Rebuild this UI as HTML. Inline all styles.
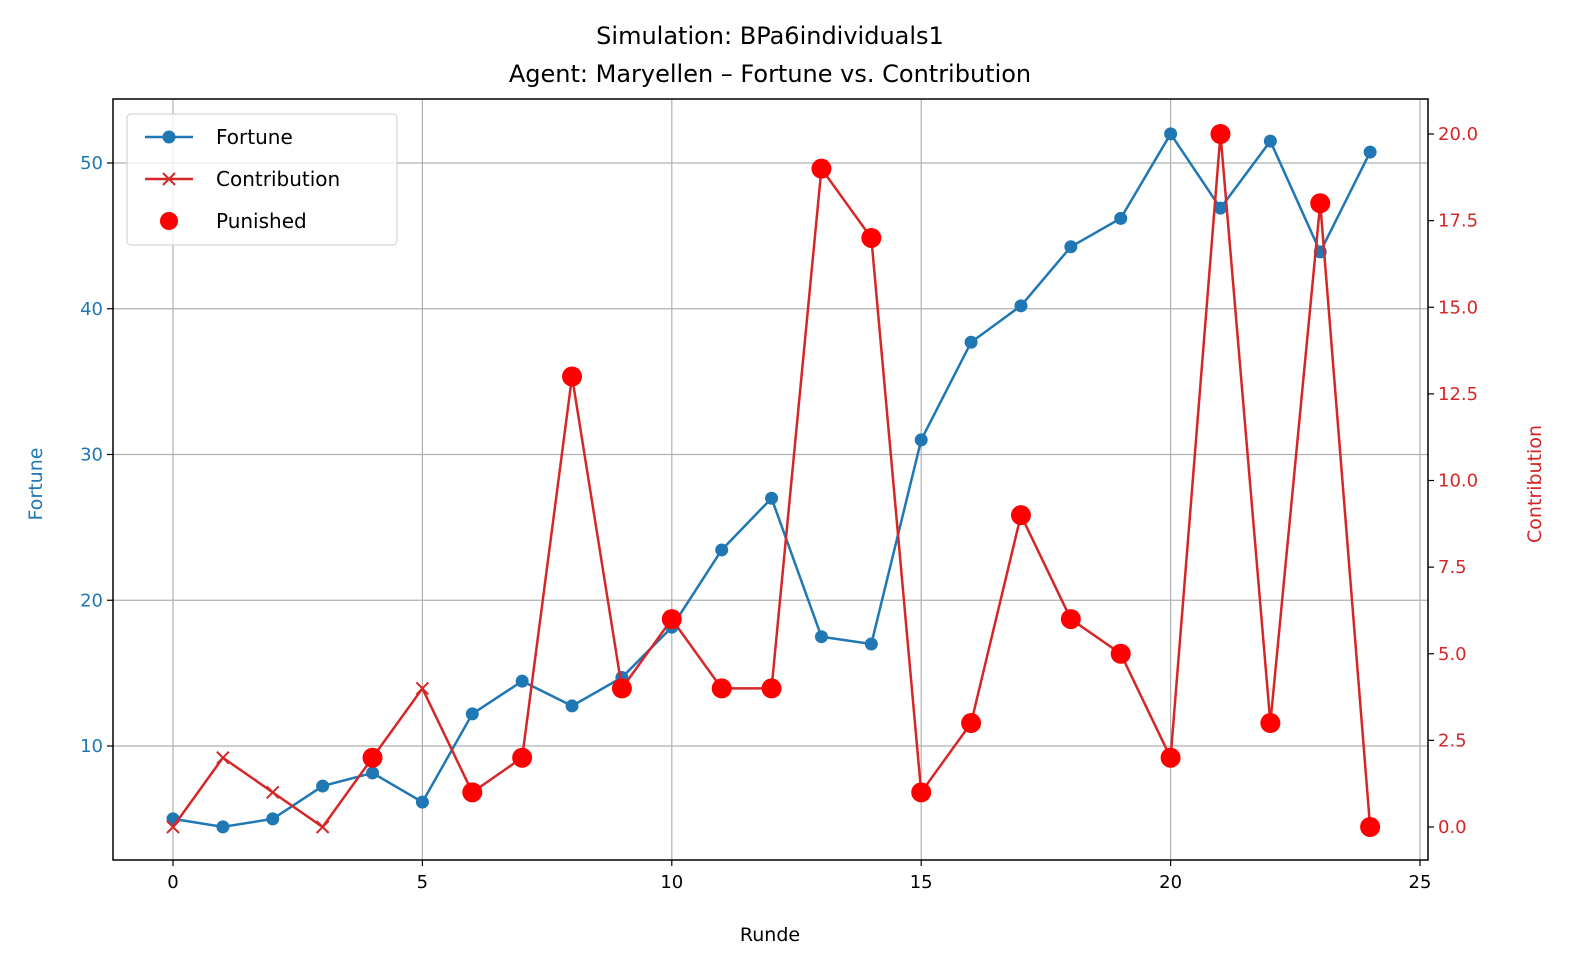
<!DOCTYPE html>
<html><head><meta charset="utf-8"><style>
html,body{margin:0;padding:0;background:#fff;overflow:hidden;width:1580px;height:974px}
svg{display:block}
svg text{font-family:"DejaVu Sans","Liberation Sans",sans-serif}
</style></head><body>
<svg id="chart" width="1580" height="974" xmlns="http://www.w3.org/2000/svg">
<rect width="1580" height="974" fill="#fff"/>
<text x="770" y="44" font-size="24" text-anchor="middle">Simulation: BPa6individuals1</text>
<text x="770" y="82" font-size="24" text-anchor="middle">Agent: Maryellen – Fortune vs. Contribution</text>
<g id="grid"></g>
<g id="marks"></g>
<rect x="113" y="99" width="1315" height="761" fill="none" stroke="#000" stroke-width="1.5"/>
<g id="axes"></g>
<text x="770" y="941" font-size="19" text-anchor="middle">Runde</text>
<text transform="translate(42,484) rotate(-90)" font-size="19" fill="#1f77b4" text-anchor="middle">Fortune</text>
<text transform="translate(1541,484) rotate(-90)" font-size="19" fill="#d62728" text-anchor="middle">Contribution</text>
<g>
<rect x="127" y="114" width="270" height="131" rx="4" fill="#fff" fill-opacity="0.8" stroke="#ccc"/>
<g><line x1="145" y1="137" x2="193" y2="137" stroke="#1f77b4" stroke-width="2.5"/><circle cx="169" cy="137" r="6.5" fill="#1f77b4"/><text x="216" y="144" font-size="20">Fortune</text></g>
<g><line x1="145" y1="179" x2="193" y2="179" stroke="#d62728" stroke-width="2.5"/><path d="M163 173l12 12M175 173l-12 12" stroke="#d62728" stroke-width="2"/><text x="216" y="186" font-size="20">Contribution</text></g>
<g><circle cx="169" cy="221" r="9" fill="#ff0000"/><text x="216" y="228" font-size="20">Punished</text></g>
</g>
</svg>
<script>
const rounds=[0,1,2,3,4,5,6,7,8,9,10,11,12,13,14,15,16,17,18,19,20,21,22,23,24];
const fortune=[5.0,4.45,5.0,7.25,8.15,6.15,12.2,14.45,12.75,14.7,18.15,23.45,27.0,17.5,17.0,31.0,37.7,40.2,44.25,46.2,52.0,46.9,51.5,43.9,50.75];
const contribution=[0,2,1,0,2,4,1,2,13,4,6,4,4,19,17,1,3,9,6,5,2,20,3,18,0];
const punishedRounds=[4,6,7,8,9,10,11,12,13,14,15,16,17,18,19,20,21,22,23,24];
const xTicks=[0,5,10,15,20,25];
const yLeftTicks=[10,20,30,40,50];
const yRightTicks=[0,2.5,5,7.5,10,12.5,15,17.5,20];
const yRightLabels=["0.0","2.5","5.0","7.5","10.0","12.5","15.0","17.5","20.0"];

const L=113,R=1428,T=99,B=860;
const x=v=>173+(v-0)*(1420-173)/25;
const yL=v=>746+(v-10)*(163-746)/40;
const yR=v=>827+(v-0)*(134-827)/20;
const NS="http://www.w3.org/2000/svg";
function mk(tag,attrs,parent){const e=document.createElementNS(NS,tag);for(const k in attrs)e.setAttribute(k,attrs[k]);parent.appendChild(e);return e;}
const grid=document.getElementById('grid'),marks=document.getElementById('marks'),axes=document.getElementById('axes');
xTicks.forEach(t=>{
 const g=mk('line',{x1:x(t),x2:x(t),y1:T,y2:B,stroke:'#b0b0b0','stroke-width':1.2},grid);
 
 
 mk('line',{x1:x(t),x2:x(t),y1:B,y2:B+6,stroke:'#000','stroke-width':1.2},axes);
 const tx=mk('text',{x:x(t),y:B+28,'font-size':18,'text-anchor':'middle'},axes);tx.textContent=t;
 
 
});
yLeftTicks.forEach(t=>{
 const g=mk('line',{x1:L,x2:R,y1:yL(t),y2:yL(t),stroke:'#b0b0b0','stroke-width':1.2},grid);
 
 
 mk('line',{x1:L-6,x2:L,y1:yL(t),y2:yL(t),stroke:'#000','stroke-width':1.2},axes);
 const tx=mk('text',{x:L-10,y:yL(t)+6,'font-size':18,'text-anchor':'end',fill:'#1f77b4'},axes);tx.textContent=t;
 
 
});
yRightTicks.forEach((t,i)=>{
 mk('line',{x1:R,x2:R+6,y1:yR(t),y2:yR(t),stroke:'#000','stroke-width':1.2},axes);
 const tx=mk('text',{x:R+10,y:yR(t)+6,'font-size':18,fill:'#d62728'},axes);tx.textContent=yRightLabels[i];
 
 
});
const fl=mk('polyline',{points:rounds.map((r,i)=>x(r)+','+yL(fortune[i])).join(' '),fill:'none',stroke:'#1f77b4','stroke-width':2.5},marks);


rounds.forEach((r,i)=>{
 const c=mk('circle',{cx:x(r),cy:yL(fortune[i]),r:6.5,fill:'#1f77b4'},marks);
 
 
});
const cl=mk('polyline',{points:rounds.map((r,i)=>x(r)+','+yR(contribution[i])).join(' '),fill:'none',stroke:'#d62728','stroke-width':2.5},marks);


rounds.forEach((r,i)=>{
 const cx=x(r),cy=yR(contribution[i]);
 const p=mk('path',{d:`M${cx-6} ${cy-6}l12 12M${cx+6} ${cy-6}l-12 12`,stroke:'#d62728','stroke-width':2},marks);
 
 
});
punishedRounds.forEach(r=>{
 const c=mk('circle',{cx:x(r),cy:yR(contribution[rounds.indexOf(r)]),r:10,fill:'#ff0000'},marks);
 
 
});
</script>
</body></html>
